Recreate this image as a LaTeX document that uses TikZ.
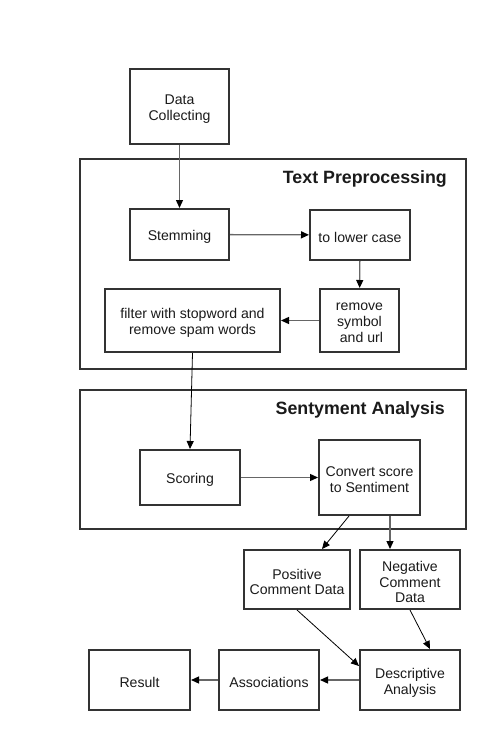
\documentclass[tikz,border=0pt]{standalone}
\usepackage{fontspec}
\setmainfont{Liberation Sans}
\usetikzlibrary{arrows.meta}
\definecolor{boxline}{HTML}{333333}
\definecolor{conn}{HTML}{666666}
\definecolor{txt}{HTML}{1A1A1A}
\tikzset{
  box/.style={draw=boxline, line width=2pt, fill=white, inner sep=0pt},
  boxtext/.style={inner sep=0pt, align=center, yshift=-2.5pt, text=txt,
    font=\fontsize{14.1pt}{15.8pt}\selectfont},
  group/.style={draw=boxline, line width=2pt, inner sep=0pt},
  grouptitle/.style={font=\fontsize{17.8pt}{20pt}\selectfont\bfseries, text=txt, inner sep=0pt, anchor=base east},
  conn/.style={draw=conn, line width=1.3pt, -{Triangle[length=8pt,width=7pt,color=black]}},
  thinconn/.style={draw=black, line width=0.8pt, -{Triangle[length=8pt,width=7pt,color=black]}}
}
\begin{document}
\begin{tikzpicture}[x=1pt,y=-1pt]
\useasboundingbox (0,0) rectangle (486,730);
% groups
\node[group, minimum width=386pt, minimum height=210pt] (tp) at (273,264) {};
\node[group, minimum width=386pt, minimum height=139pt] (sa) at (273,459.5) {};
\node[grouptitle] (tptitle) at (447,183.5) {Text Preprocessing};
\node[grouptitle] (satitle) at (445,414.5) {Sentyment Analysis};
% boxes
\node[box, minimum width=99pt, minimum height=75pt, label={[boxtext]center:Data\\Collecting}] (data) at (179.5,106.5) {};
\node[box, minimum width=99pt, minimum height=51pt, label={[boxtext]center:Stemming}] (stem) at (179.5,234.5) {};
\node[box, minimum width=100pt, minimum height=50pt, label={[boxtext]center:to lower case}] (lower) at (360,235) {};
\node[box, minimum width=79pt, minimum height=63pt, label={[boxtext]center:remove\\symbol\\\ and url}] (remove) at (359.5,320.5) {};
\node[box, minimum width=175pt, minimum height=63pt, label={[boxtext]center:filter with stopword and\\remove spam words}] (filter) at (192.5,320.5) {};
\node[box, minimum width=100pt, minimum height=55pt, label={[boxtext]center:Scoring}] (scoring) at (190,477.5) {};
\node[box, minimum width=101pt, minimum height=75pt, label={[boxtext]center:Convert score\\to Sentiment}] (convert) at (369.5,477.5) {};
\node[box, minimum width=106pt, minimum height=59pt, label={[boxtext]center:Positive\\Comment Data}] (pos) at (297,579.5) {};
\node[box, minimum width=100pt, minimum height=59pt, label={[boxtext]center:Negative\\Comment\\Data}] (neg) at (410,579.5) {};
\node[box, minimum width=100pt, minimum height=60pt, label={[boxtext]center:Descriptive\\Analysis}] (desc) at (410,680) {};
\node[box, minimum width=100pt, minimum height=60pt, label={[boxtext]center:Associations}] (assoc) at (269,680) {};
\node[box, minimum width=101pt, minimum height=60pt, label={[boxtext]center:Result}] (result) at (139.5,680) {};
% connectors
\draw[conn] (data) -- (stem);
\draw[conn] (stem) -- (lower);
\draw[conn] (lower) -- (remove);
\draw[conn] (remove) -- (filter);
\draw[thinconn] (filter.south) -- (scoring.north);
\draw[conn] (scoring) -- (convert);
\draw[thinconn] ([xshift=-20.5pt]convert.south) -- ([xshift=25pt]pos.north);
\draw[conn] ([xshift=20.5pt]convert.south) -- ([xshift=-20pt]neg.north);
\draw[thinconn] (pos.south) -- ([yshift=14pt]desc.west);
\draw[thinconn] (neg.south) -- ([xshift=20pt]desc.north);
\draw[conn] (desc) -- (assoc);
\draw[conn] (assoc) -- (result);
\end{tikzpicture}
\end{document}
